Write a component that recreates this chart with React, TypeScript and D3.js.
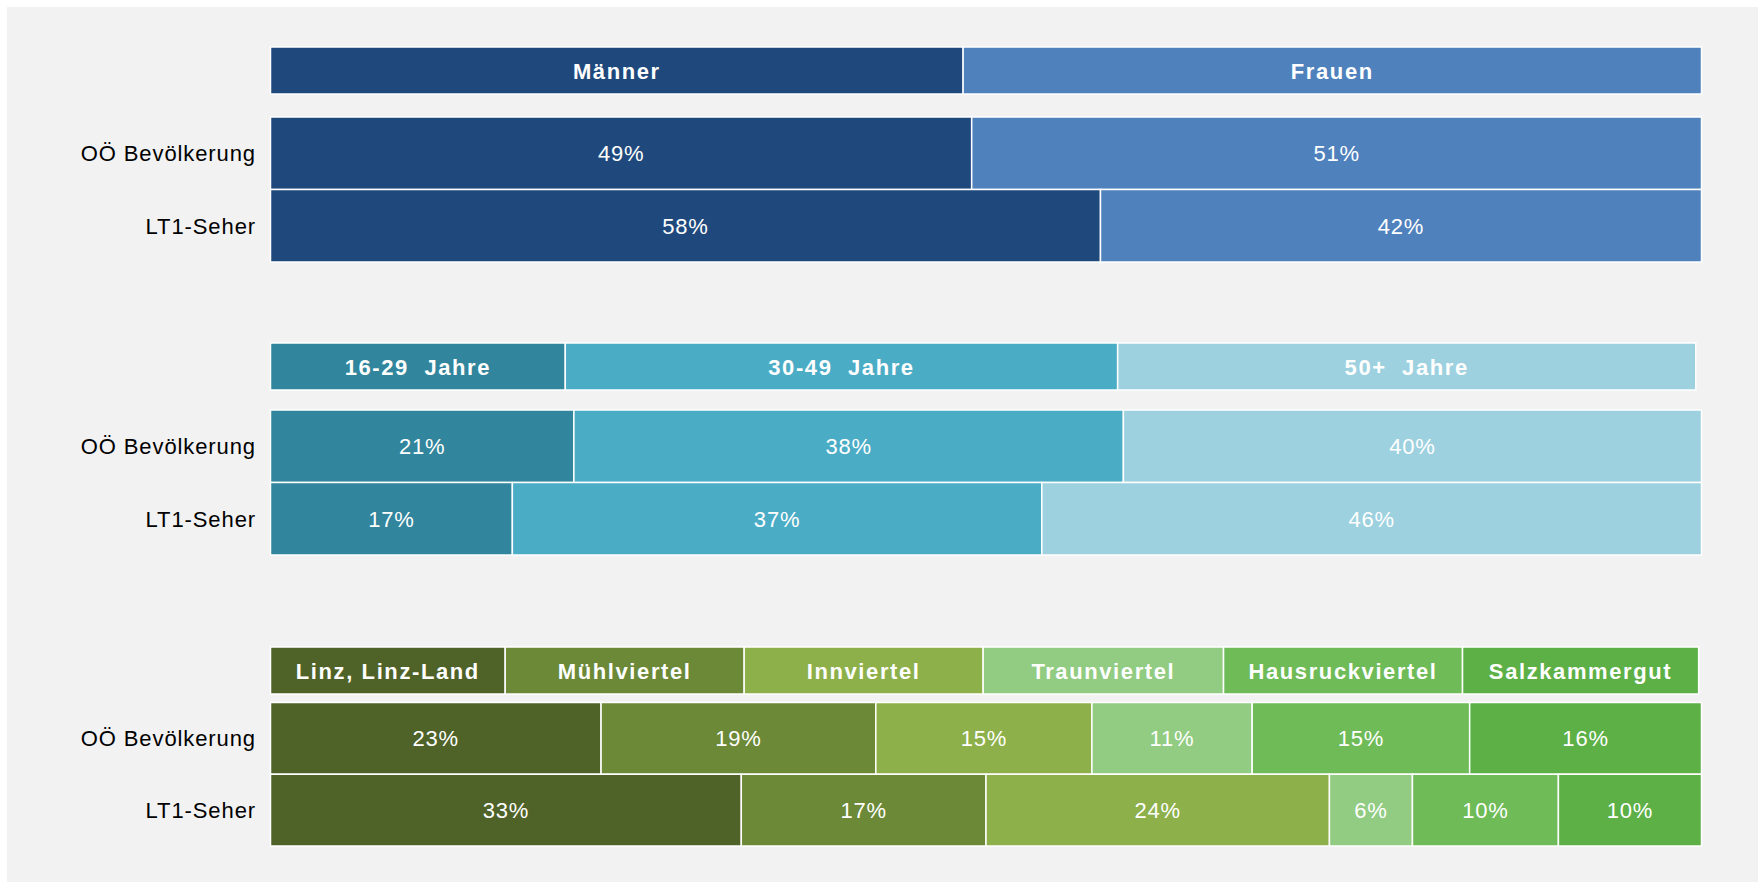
import React, { useRef, useEffect } from "react";
import * as d3 from "d3";

const rowLabels = ["OÖ Bevölkerung", "LT1-Seher"];

// gender
const genderCats = ["Männer", "Frauen"];
const genderHeader = [48.4, 51.6];
const genderOOE = [49, 51];
const genderLT1 = [58, 42];
const genderColors = ["#1f497d", "#4f81bd"];

// age
const ageCats = ["16-29\u00a0 Jahre", "30-49\u00a0 Jahre", "50+\u00a0 Jahre"];
const ageHeader = [20.6, 38.6, 40.4];
const ageOOE = [21.2, 38.4, 40.4];
const ageLT1 = [16.9, 37.0, 46.1];
const ageColors = ["#31859c", "#4bacc6", "#9dd1df"];

// regions
const regionCats = [
  "Linz, Linz-Land",
  "Mühlviertel",
  "Innviertel",
  "Traunviertel",
  "Hausruckviertel",
  "Salzkammergut",
];
const regionHeader = [16.4, 16.7, 16.7, 16.8, 16.7, 16.5];
const regionOOE = [23.1, 19.2, 15.1, 11.2, 15.2, 16.2];
const regionLT1 = [32.9, 17.1, 24.0, 5.8, 10.2, 10.0];
const regionColors = ["#4f6228", "#6b8937", "#8db04a", "#91cc82", "#6ebb57", "#5cb046"];

const W = 1760;
const H = 885;

export default function App() {
  const svgRef = useRef<SVGSVGElement>(null);

  useEffect(() => {
    const svg = d3.select(svgRef.current);
    svg.selectAll("*").remove();

    svg.append("rect").attr("width", W).attr("height", H).attr("fill", "#ffffff");
    svg
      .append("rect")
      .attr("x", 7)
      .attr("y", 7)
      .attr("width", 1751)
      .attr("height", 875)
      .attr("fill", "#f2f2f2");

    const x = d3.scaleLinear().domain([0, 100]).range([270.5, 1701.5]);
    const font = "'Liberation Sans', Arial, sans-serif";

    const sections = [
      { cats: genderCats, header: genderHeader, rows: [genderOOE, genderLT1], colors: genderColors, hTop: 47, hBot: 94, rTop: 117, rBot: 262 },
      { cats: ageCats, header: ageHeader, rows: [ageOOE, ageLT1], colors: ageColors, hTop: 343, hBot: 390, rTop: 410, rBot: 555 },
      { cats: regionCats, header: regionHeader, rows: [regionOOE, regionLT1], colors: regionColors, hTop: 647, hBot: 694, rTop: 702.5, rBot: 846 },
    ];

    const stackOf = (vals: number[]) => {
      let acc = 0;
      return vals.map((v, i) => {
        const s = { i, x0: acc, x1: acc + v, v };
        acc += v;
        return s;
      });
    };

    sections.forEach((sec) => {
      const g = svg.append("g");

      // header bar
      const hs = stackOf(sec.header);
      g.selectAll(".hdr")
        .data(hs)
        .enter()
        .append("rect")
        .attr("x", (d) => x(d.x0))
        .attr("y", sec.hTop)
        .attr("width", (d) => x(d.x1) - x(d.x0))
        .attr("height", sec.hBot - sec.hTop)
        .attr("fill", (d) => sec.colors[d.i])
        .attr("stroke", "#ffffff")
        .attr("stroke-width", 1.5);

      g.selectAll(".hdr-label")
        .data(hs)
        .enter()
        .append("text")
        .attr("x", (d) => (x(d.x0) + x(d.x1)) / 2)
        .attr("y", (sec.hTop + sec.hBot) / 2 + 8)
        .attr("text-anchor", "middle")
        .attr("fill", "#ffffff")
        .attr("font-family", font)
        .attr("font-weight", "bold")
        .style("font-size", "22px")
        .style("letter-spacing", "1.6px")
        .text((d) => sec.cats[d.i]);

      // data rows
      const y = d3.scaleBand().domain(rowLabels).range([sec.rTop, sec.rBot]).padding(0);

      rowLabels.forEach((lab, r) => {
        const st = stackOf(sec.rows[r]);
        const yy = y(lab) as number;
        const bw = y.bandwidth();

        g.selectAll(".seg-" + r)
          .data(st)
          .enter()
          .append("rect")
          .attr("x", (d) => x(d.x0))
          .attr("y", yy)
          .attr("width", (d) => x(d.x1) - x(d.x0))
          .attr("height", bw)
          .attr("fill", (d) => sec.colors[d.i])
          .attr("stroke", "#ffffff")
          .attr("stroke-width", 1.5);

        g.selectAll(".val-" + r)
          .data(st)
          .enter()
          .append("text")
          .attr("x", (d) => (x(d.x0) + x(d.x1)) / 2)
          .attr("y", yy + bw / 2 + 8)
          .attr("text-anchor", "middle")
          .attr("fill", "#ffffff")
          .attr("font-family", font)
          .style("font-size", "22px")
          .style("letter-spacing", "0.8px")
          .text((d) => `${Math.round(d.v)}%`);

        g.append("text")
          .attr("x", 256)
          .attr("y", yy + bw / 2 + 8)
          .attr("text-anchor", "end")
          .attr("fill", "#000000")
          .attr("font-family", font)
          .style("font-size", "22px")
          .style("letter-spacing", "0.9px")
          .text(lab);
      });
    });
  }, []);

  return (
    <svg
      ref={svgRef}
      width={W}
      height={H}
      style={{ position: "absolute", left: 0, top: 0, display: "block" }}
    ></svg>
  );
}
